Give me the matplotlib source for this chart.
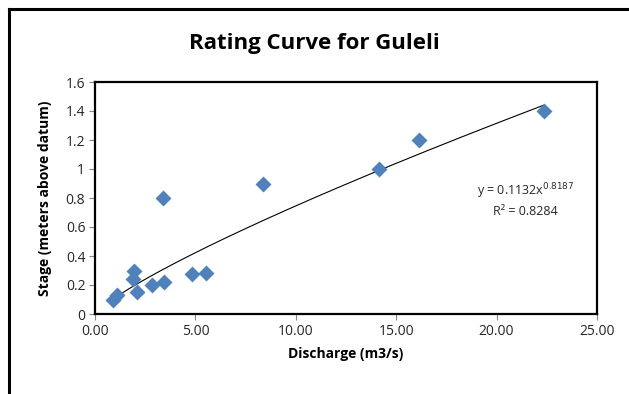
"""Rating curve scatter with power-law trendline."""

import matplotlib.pyplot as plt
import numpy as np
from matplotlib.lines import Line2D

# observed discharge (m3/s) and stage (m above datum)
discharge = [0.9, 1.1, 1.9, 1.95, 2.1, 2.85, 3.4, 3.45, 4.85, 5.55, 8.35, 14.15, 16.15, 22.35]
stage = [0.10, 0.13, 0.24, 0.30, 0.15, 0.20, 0.80, 0.22, 0.275, 0.28, 0.90, 1.00, 1.20, 1.40]

# power trendline y = a * x^b
coef_a = 0.1132
coef_b = 0.8187
r_squared = 0.8284

x_ticks = [0, 5, 10, 15, 20, 25]
y_ticks = [0, 0.2, 0.4, 0.6, 0.8, 1.0, 1.2, 1.4, 1.6]

FONT = ["Open Sans", "DejaVu Sans"]


def main() -> None:
    plt.rcParams["font.family"] = FONT
    fig = plt.figure(figsize=(6.29, 3.94), dpi=100)
    ax = fig.add_axes([95 / 629, 1 - 314 / 394, (597 - 95) / 629, (314 - 82) / 394])

    ax.scatter(discharge, stage, marker="D", s=66, color="#4F81BD", zorder=3, linewidths=0)

    xs = np.linspace(min(discharge), max(discharge), 200)
    ax.plot(xs, coef_a * xs ** coef_b, color="black", lw=0.8, zorder=2)

    ax.set_xlim(0, 25)
    ax.set_ylim(0, 1.6)
    ax.set_xticks(x_ticks)
    ax.set_xticklabels([f"{v:.2f}" for v in x_ticks])
    ax.set_yticks(y_ticks)
    ax.set_yticklabels([f"{v:g}" for v in y_ticks])
    ax.tick_params(direction="out", length=4, color="#868686", labelsize=10,
                   labelcolor="#262626", pad=3)
    for sp in ax.spines.values():
        sp.set_color("black")
        sp.set_linewidth(1.6)

    ax.set_xlabel("Discharge (m3/s)", fontsize=10, fontweight="bold", labelpad=6)
    ax.set_ylabel("Stage (meters above datum)", fontsize=10, fontweight="bold", labelpad=10)

    fig.text(0.5, 1 - 43 / 394, "Rating Curve for Guleli", ha="center", va="center",
             fontsize=16, fontweight="bold", fontstretch="condensed")

    ax.text(0.857, 0.53, f"y = {coef_a}x$^{{{coef_b}}}$", transform=ax.transAxes,
            ha="center", va="center", fontsize=9, color="#262626")
    ax.text(0.857, 0.44, f"R² = {r_squared}", transform=ax.transAxes,
            ha="center", va="center", fontsize=9, color="#262626")

    # outer chart frame (left and top edges visible)
    fig.add_artist(Line2D([9 / 629, 9 / 629], [0, 1 - 9 / 394], color="black", lw=2.2,
                          transform=fig.transFigure))
    fig.add_artist(Line2D([9 / 629, 1], [1 - 9 / 394, 1 - 9 / 394], color="black", lw=2.2,
                          transform=fig.transFigure))

    fig.savefig("out.png", dpi=100)


if __name__ == "__main__":
    main()
